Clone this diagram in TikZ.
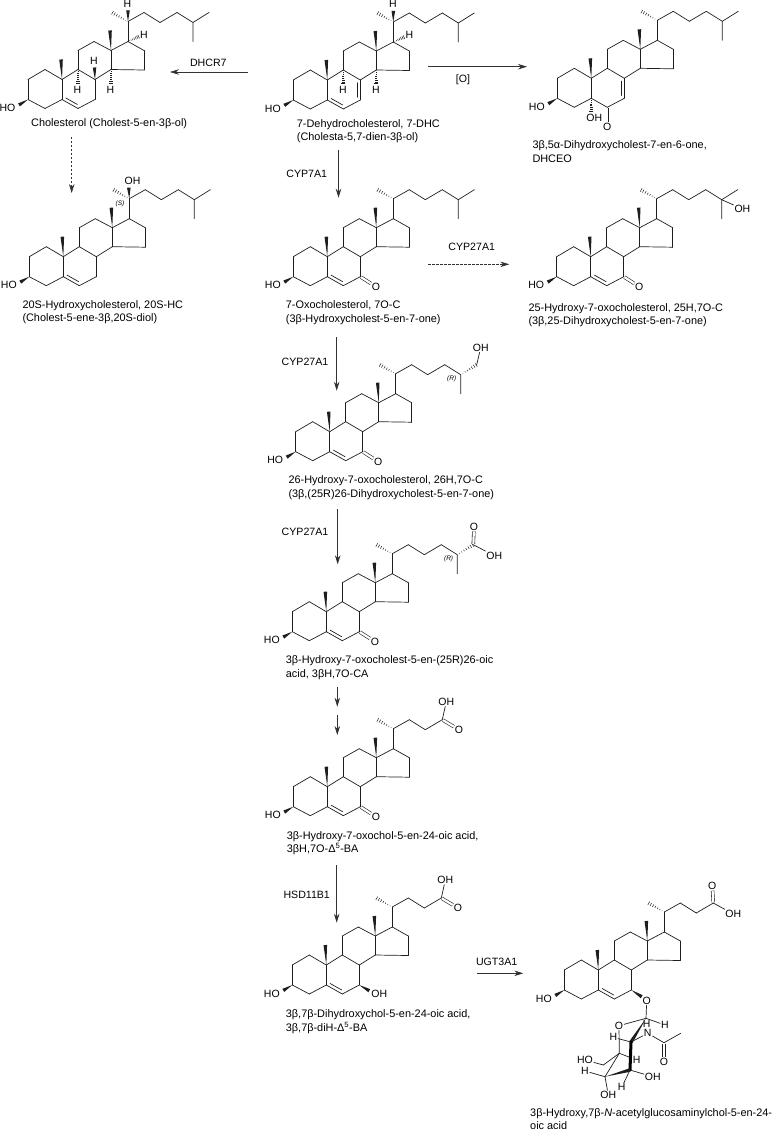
\documentclass[tikz,border=0pt]{standalone}
\usepackage{fontspec}
\setmainfont{Liberation Sans}
\usetikzlibrary{arrows.meta,calc}
\definecolor{bondcol}{RGB}{30,30,30}
\definecolor{arrowcol}{RGB}{50,50,50}
\tikzset{
  bond/.style={draw=bondcol,line width=.7pt,line cap=round},
  oxobond/.style={draw=bondcol,line width=.6pt,double,double distance=2.2pt,shorten <=.8pt},
  boldbond/.style={draw=black,line width=3pt,line cap=round},
  atom/.style={inner sep=.8pt,font=\fontsize{10.5}{12}\selectfont},
  stereo/.style={inner sep=0pt,font=\fontsize{6.5}{8}\selectfont\itshape},
  capt/.style={anchor=west,inner sep=0pt,align=left,font=\fontsize{10.9}{13.4}\selectfont},
  enzyme/.style={inner sep=0pt,font=\fontsize{10.6}{12}\selectfont},
  react/.style={-{Stealth[length=9pt,width=5.5pt]},draw=arrowcol,line width=.7pt},
  maybe/.style={react,dashed,dash pattern=on 2.2pt off 1.8pt},
}
\newcommand{\wedgebond}[2]{\fill[bondcol] (#1) -- ($(#2)!1.8pt!90:(#1)$) -- ($(#2)!1.8pt!-90:(#1)$) -- cycle;}
\newcommand{\hashbond}[2]{%
  \foreach \t in {.14,.28,.42,.56,.7,.84,.97}{%
    \pgfmathsetmacro{\hw}{\t*2}
    \draw[draw=bondcol,line width=.5pt] ($(#1)!\t!(#2)!\hw pt!90:(#2)$) -- ($(#1)!\t!(#2)!\hw pt!-90:(#2)$);}}
\newcommand{\innerbond}[2]{\draw[bond] ($(#1)!.14!(#2)!3.2pt!90:(#2)$) -- ($(#2)!.14!(#1)!3.2pt!-90:(#1)$);}
\newcommand{\steroid}[3]{%
  \begin{scope}[shift={(#2,#3)}]
    \foreach \a/\x/\y in {c3/0/0,c2/0/-20,c1/17/-30,c10/34/-20,c5/34/0,c4/17/9,c6/50/9,c7/67/0,
      c8/67/-20,c9/50/-30,c11/50/-49,c12/66/-58,c13/83/-49,c14/83/-30,c15/116/-29.5,c16/116/-49,
      c17/100/-58,c18/82/-69,c19/33/-40,c20/100/-78,c21/84/-87,c22/116/-87,c23/132/-77,c24/149/-87,
      c25/165/-77,c26/181/-87,c27/165/-58,ow/-9/5.4}
      {\coordinate (#1-\a) at (\x,\y);}
    \node[atom] (#1-ho) at (-20.5,8.5) {HO};
  \end{scope}
  \foreach \p/\q in {c3/c2,c2/c1,c1/c10,c10/c5,c5/c4,c4/c3,c5/c6,c6/c7,c7/c8,c8/c9,c9/c10,c9/c11,
    c11/c12,c12/c13,c13/c14,c14/c8,c14/c15,c15/c16,c16/c17,c17/c13,c17/c20,c20/c22,c22/c23,c23/c24}
    {\draw[bond] (#1-\p) -- (#1-\q);}
  \wedgebond{#1-c3}{#1-ow}
  \wedgebond{#1-c10}{#1-c19}
  \wedgebond{#1-c13}{#1-c18}
  \hashbond{#1-c20}{#1-c21}
}
\newcommand{\isotail}[1]{\draw[bond] (#1-c24) -- (#1-c25) -- (#1-c26) (#1-c25) -- (#1-c27);}
\newcommand{\ketone}[1]{%
  \node[atom] (#1-o7) at ($(#1-c3)+(82.6,10)$) {O};
  \draw[oxobond] (#1-c7) -- (#1-o7);}
\newcommand{\oicacid}[1]{%
  \node[atom] (#1-oh) at ($(#1-c3)+(153,-105)$) {OH};
  \node[atom] (#1-o) at ($(#1-c3)+(165.6,-77)$) {O};
  \draw[bond] (#1-c24) -- (#1-oh);
  \draw[oxobond] (#1-c24) -- (#1-o);}
\newcommand{\hashH}[2]{%
  \coordinate (#1-#2e) at ($(#1-#2)+(0,14)$);
  \node[atom] (#1-#2h) at ($(#1-#2)+(-.5,20)$) {H};
  \hashbond{#1-#2}{#1-#2e}}
\newcommand{\sideH}[1]{%
  \coordinate (#1-c17e) at ($(#1-c17)+(11,-5)$);
  \node[atom] (#1-c17h) at ($(#1-c17)+(16,-7)$) {H};
  \hashbond{#1-c17}{#1-c17e}
  \coordinate (#1-c20e) at ($(#1-c20)+(0,-11)$);
  \node[atom] (#1-c20h) at ($(#1-c20)+(-.5,-18)$) {H};
  \wedgebond{#1-c20}{#1-c20e}}
\begin{document}
\begin{tikzpicture}[x=1pt,y=-1pt]
  \useasboundingbox (0,0) rectangle (772,1132);

  \steroid{chol}{28}{99.5}
  \isotail{chol}
  \innerbond{chol-c5}{chol-c6}
  \hashH{chol}{c9}
  \hashH{chol}{c14}
  \sideH{chol}
  \coordinate (chol-c8e) at ($(chol-c8)+(-.5,-12)$);
  \node[atom] (chol-c8h) at ($(chol-c8)+(-1,-18.5)$) {H};
  \wedgebond{chol-c8}{chol-c8e}
  \node[capt] (chol-cap) at (31,124) {Cholesterol (Cholest-5-en-3β-ol)};

  \steroid{dhc}{293.3}{100}
  \isotail{dhc}
  \innerbond{dhc-c5}{dhc-c6}
  \innerbond{dhc-c7}{dhc-c8}
  \hashH{dhc}{c9}
  \hashH{dhc}{c14}
  \sideH{dhc}
  \node[capt] (dhc-cap) at (296.7,131) {7-Dehydrocholesterol, 7-DHC\\(Cholesta-5,7-dien-3β-ol)};

  \steroid{ceo}{557.3}{98.3}
  \isotail{ceo}
  \innerbond{ceo-c7}{ceo-c8}
  \coordinate (ceo-o5e) at ($(ceo-c5)+(0,13)$);
  \hashbond{ceo-c5}{ceo-o5e}
  \node[atom] (ceo-oh) at ($(ceo-c3)+(37,19.3)$) {OH};
  \node[atom] (ceo-o6) at ($(ceo-c3)+(50,28.3)$) {O};
  \draw[oxobond] (ceo-c6) -- (ceo-o6);
  \node[capt] (ceo-cap) at (532.3,151.5) {3β,5α-Dihydroxycholest-7-en-6-one,\\DHCEO};

  \steroid{shc}{29.3}{276.7}
  \isotail{shc}
  \innerbond{shc-c5}{shc-c6}
  \coordinate (shc-c20e) at ($(shc-c20)+(-.5,-11)$);
  \node[atom] (shc-oh) at ($(shc-c3)+(103.3,-95.7)$) {OH};
  \wedgebond{shc-c20}{shc-c20e}
  \node[stereo] (shc-s) at ($(shc-c3)+(90.7,-72.7)$) {(S)};
  \node[capt] (shc-cap) at (22.3,312.3) {20S-Hydroxycholesterol, 20S-HC\\(Cholest-5-ene-3β,20S-diol)};

  \steroid{oxo}{293.3}{276.7}
  \isotail{oxo}
  \innerbond{oxo-c5}{oxo-c6}
  \ketone{oxo}
  \node[capt] (oxo-cap) at (285.7,312.5) {7-Oxocholesterol, 7O-C\\(3β-Hydroxycholest-5-en-7-one)};

  \steroid{hoxo}{556.7}{276.7}
  \isotail{hoxo}
  \innerbond{hoxo-c5}{hoxo-c6}
  \ketone{hoxo}
  \node[atom] (hoxo-oh) at ($(hoxo-c3)+(185.7,-67.8)$) {OH};
  \draw[bond] (hoxo-c25) -- (hoxo-oh);
  \node[capt] (hoxo-cap) at (528.3,315) {25-Hydroxy-7-oxocholesterol, 25H,7O-C\\(3β,25-Dihydroxycholest-5-en-7-one)};

  \steroid{roh}{295.7}{451.7}
  \innerbond{roh-c5}{roh-c6}
  \ketone{roh}
  \draw[bond] (roh-c24) -- (roh-c25) -- (roh-c27);
  \hashbond{roh-c25}{roh-c26}
  \node[atom] (roh-oh) at ($(roh-c3)+(185,-104)$) {OH};
  \draw[bond] (roh-c26) -- (roh-oh);
  \node[stereo] (roh-r) at ($(roh-c3)+(156,-72.5)$) {(R)};
  \node[capt] (roh-cap) at (288.3,487.6) {26-Hydroxy-7-oxocholesterol, 26H,7O-C\\(3β,(25R)26-Dihydroxycholest-5-en-7-one)};

  \steroid{acid}{292.3}{631.7}
  \innerbond{acid-c5}{acid-c6}
  \ketone{acid}
  \draw[bond] (acid-c24) -- (acid-c25) -- (acid-c27);
  \hashbond{acid-c25}{acid-c26}
  \node[atom] (acid-o) at ($(acid-c3)+(181.7,-105)$) {O};
  \node[atom] (acid-oh) at ($(acid-c3)+(202,-76)$) {OH};
  \draw[oxobond] (acid-c26) -- (acid-o);
  \draw[bond] (acid-c26) -- (acid-oh);
  \node[stereo] (acid-r) at ($(acid-c3)+(156.3,-73.3)$) {(R)};
  \node[capt] (acid-cap) at (285.7,667.5) {3β-Hydroxy-7-oxocholest-5-en-(25R)26-oic\\acid, 3βH,7O-CA};

  \steroid{ba}{293.3}{806.7}
  \innerbond{ba-c5}{ba-c6}
  \ketone{ba}
  \oicacid{ba}
  \node[capt] (ba-cap) at (286.7,843) {3β-Hydroxy-7-oxochol-5-en-24-oic acid,\\3βH,7O-Δ\textsuperscript{5}-BA};

  \steroid{dih}{292.3}{985}
  \innerbond{dih-c5}{dih-c6}
  \oicacid{dih}
  \coordinate (dih-o7e) at ($(dih-c7)+(10,5.7)$);
  \node[atom] (dih-oh7) at ($(dih-c3)+(87,9)$) {OH};
  \wedgebond{dih-c7}{dih-o7e}
  \node[capt] (dih-cap) at (285.7,1021.5) {3β,7β-Dihydroxychol-5-en-24-oic acid,\\3β,7β-diH-Δ\textsuperscript{5}-BA};

  \steroid{glc}{564.3}{990}
  \innerbond{glc-c5}{glc-c6}
  \node[atom] (glc-o) at ($(glc-c3)+(148,-104)$) {O};
  \node[atom] (glc-oh) at ($(glc-c3)+(169,-76)$) {OH};
  \draw[oxobond] (glc-c24) -- (glc-o);
  \draw[bond] (glc-c24) -- (glc-oh);
  \node[atom] (glc-o7) at (646.7,1000.7) {O};
  \coordinate (glc-o7e) at (641.7,996.7);
  \wedgebond{glc-c7}{glc-o7e}
  \coordinate (sug-c1) at (646,1018.3);
  \coordinate (sug-c2) at (631,1042);
  \coordinate (sug-c3) at (630,1070);
  \coordinate (sug-c4) at (605,1076.7);
  \coordinate (sug-c5) at (619.3,1053.3);
  \coordinate (sug-c6) at (603.3,1065);
  \coordinate (sug-ac) at (664,1042.7);
  \coordinate (sug-me) at (680.7,1033.3);
  \node[atom] (sug-o) at (619,1025.7) {O};
  \node[atom] (sug-n) at (647.7,1033.3) {N};
  \node[atom] (sug-oa) at (664,1061.7) {O};
  \node[atom] (sug-h1) at (665,1025) {H};
  \node[atom] (sug-h1b) at (646.7,1024) {H};
  \node[atom] (sug-h2) at (613.3,1037.3) {H};
  \node[atom] (sug-h5) at (636.7,1060) {H};
  \node[atom] (sug-ho6) at (585,1060) {HO};
  \node[atom] (sug-h4) at (585,1071) {H};
  \node[atom] (sug-oh4) at (608.3,1095) {OH};
  \node[atom] (sug-oh3) at (652.7,1076.7) {OH};
  \node[atom] (sug-h3) at (621.7,1087.3) {H};
  \foreach \p/\q in {glc-o7/sug-c1,sug-c1/sug-o,sug-c1/sug-h1,sug-o/sug-c5,sug-c2/sug-h2,sug-c2/sug-n,
    sug-n/sug-ac,sug-ac/sug-me,sug-c5/sug-h5,sug-c5/sug-c6,sug-c6/sug-ho6,sug-c5/sug-c4,sug-c4/sug-oh4,
    sug-c4/sug-h4,sug-c3/sug-oh3,sug-c3/sug-h3}
    {\draw[bond] (\p) -- (\q);}
  \draw[oxobond] (sug-ac) -- (sug-oa);
  \wedgebond{sug-c1}{sug-c2}
  \draw[boldbond] (sug-c2) -- (sug-c3);
  \wedgebond{sug-c4}{sug-c3}
  \node[capt] (glc-cap) at (530,1119) {3β-Hydroxy,7β-\textit{N}-acetylglucosaminylchol-5-en-24-\\oic acid};

  \foreach \n/\xa/\ya/\xb/\yb in {dhcr/248/72/170/72,ox/428/66.7/527/66.7,cypa/338.5/150/338.5/197.7,
    cypb/336.7/337/336.7/390.7,cypc/337.7/509/337.7/564.3,stepa/337.3/687.3/337.3/706.7,
    stepb/337.3/715/337.3/735,hsd/336.7/865/336.7/922.7,ugt/477.3/973.3/523.3/973.3}
    {\coordinate (\n-s) at (\xa,\ya); \coordinate (\n-e) at (\xb,\yb); \draw[react] (\n-s) -- (\n-e);}
  \foreach \n/\xa/\ya/\xb/\yb in {hc/71.7/137/71.7/193,cypd/428.3/264.3/509.3/264.3}
    {\coordinate (\n-s) at (\xa,\ya); \coordinate (\n-e) at (\xb,\yb); \draw[maybe] (\n-s) -- (\n-e);}
  \node[enzyme] (dhcr-l) at (208.3,62.7) {DHCR7};
  \node[enzyme] (ox-l) at (463,80) {[O]};
  \node[enzyme] (cypa-l) at (306.7,174) {CYP7A1};
  \node[enzyme] (cypd-l) at (471.7,246.7) {CYP27A1};
  \node[enzyme] (cypb-l) at (305,362) {CYP27A1};
  \node[enzyme] (cypc-l) at (305,531.7) {CYP27A1};
  \node[enzyme] (hsd-l) at (306.7,895) {HSD11B1};
  \node[enzyme] (ugt-l) at (496.7,962.3) {UGT3A1};
\end{tikzpicture}
\end{document}
